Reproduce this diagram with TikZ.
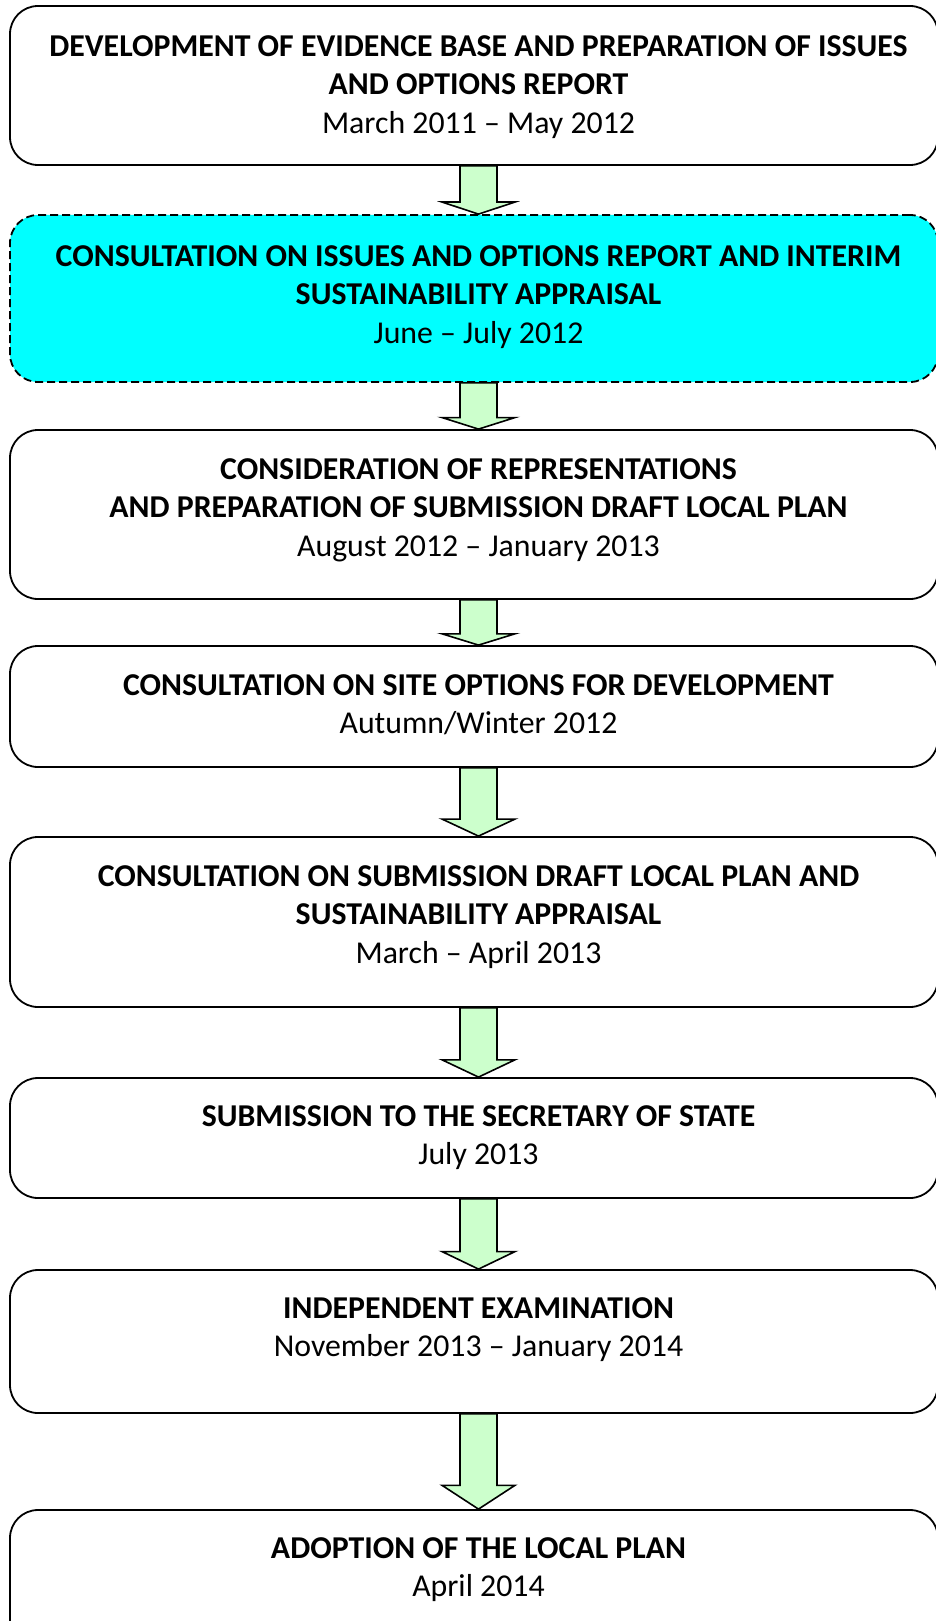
\documentclass[tikz,border=0pt]{standalone}
\usepackage{fontspec}
\setmainfont{Carlito}
\usetikzlibrary{calc}
\definecolor{arrowgreen}{HTML}{CCFFCC}
\definecolor{cyanfill}{HTML}{00FFFF}
\tikzset{
  stagebox/.style={draw=black, line width=1.8, rounded corners=28, minimum width=928, inner sep=0, fill=white},
  dashedbox/.style={stagebox, fill=cyanfill, dash pattern=on 8 off 4},
  stagetext/.style={anchor=north, align=center, inner sep=0, font=\fontsize{31.8}{38.8}\selectfont},
  blockarrow/.style={draw=black, line width=1.6, fill=arrowgreen, line join=miter},
}
\newcommand\flowarrow[2]{%
  \draw[blockarrow]
    ($(#1.south)+(-14,0)$) -- ($(#1.south)+(23,0)$)
    -- ($($(#1.south)!0.75!(#2.north)$)+(23,0)$)
    -- ($($(#1.south)!0.75!(#2.north)$)+(41,0)$)
    -- ($(#2.north)+(4.5,0)$)
    -- ($($(#1.south)!0.75!(#2.north)$)+(-32,0)$)
    -- ($($(#1.south)!0.75!(#2.north)$)+(-14,0)$)
    -- cycle;}
\begin{document}
\begin{tikzpicture}[x=1pt,y=-1pt]
\useasboundingbox (0,0) rectangle (936,1621);
% boxes
\node[stagebox, minimum height=159] (b1) at (474,85.5) {};
\node[dashedbox, minimum height=167] (b2) at (474,298.5) {};
\node[stagebox, minimum height=169] (b3) at (474,514.5) {};
\node[stagebox, minimum height=121] (b4) at (474,706.5) {};
\node[stagebox, minimum height=170] (b5) at (474,922) {};
\node[stagebox, minimum height=120] (b6) at (474,1138) {};
\node[stagebox, minimum height=143] (b7) at (474,1341.5) {};
\node[stagebox, minimum height=138] (b8) at (474,1579) {};
% texts
\node[stagetext] (t1) at ($(b1.north)+(4.5,30)$) {\textbf{DEVELOPMENT OF EVIDENCE BASE AND PREPARATION OF ISSUES}\\\textbf{AND OPTIONS REPORT}\\March 2011 – May 2012};
\node[stagetext] (t2) at ($(b2.north)+(4.5,31)$) {\textbf{CONSULTATION ON ISSUES AND OPTIONS REPORT AND INTERIM}\\\textbf{SUSTAINABILITY APPRAISAL}\\June – July 2012};
\node[stagetext] (t3) at ($(b3.north)+(4.5,29)$) {\textbf{CONSIDERATION OF REPRESENTATIONS}\\\textbf{AND PREPARATION OF SUBMISSION DRAFT LOCAL PLAN}\\August 2012 – January 2013};
\node[stagetext] (t4) at ($(b4.north)+(4.5,29)$) {\textbf{CONSULTATION ON SITE OPTIONS FOR DEVELOPMENT}\\Autumn/Winter 2012};
\node[stagetext] (t5) at ($(b5.north)+(4.5,29)$) {\textbf{CONSULTATION ON SUBMISSION DRAFT LOCAL PLAN AND}\\\textbf{SUSTAINABILITY APPRAISAL}\\March – April 2013};
\node[stagetext] (t6) at ($(b6.north)+(4.5,28)$) {\textbf{SUBMISSION TO THE SECRETARY OF STATE}\\July 2013};
\node[stagetext] (t7) at ($(b7.north)+(4.5,28)$) {\textbf{INDEPENDENT EXAMINATION}\\November 2013 – January 2014};
\node[stagetext] (t8) at ($(b8.north)+(4.5,28)$) {\textbf{ADOPTION OF THE LOCAL PLAN}\\April 2014};
% arrows
\flowarrow{b1}{b2}
\flowarrow{b2}{b3}
\flowarrow{b3}{b4}
\flowarrow{b4}{b5}
\flowarrow{b5}{b6}
\flowarrow{b6}{b7}
\flowarrow{b7}{b8}
\end{tikzpicture}
\end{document}
